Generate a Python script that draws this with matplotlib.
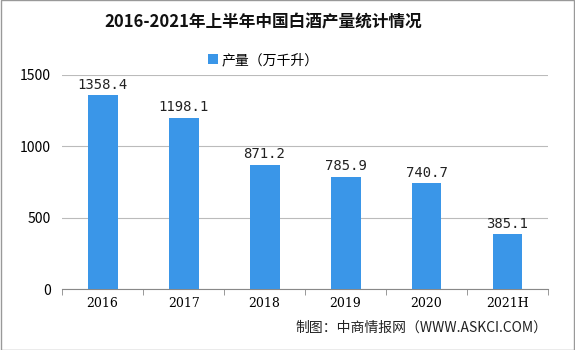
import matplotlib.pyplot as plt
import numpy as np

plt.rcParams['font.family'] = ['Noto Sans CJK SC', 'DejaVu Sans']

years = ['2016', '2017', '2018', '2019', '2020', '2021H']
output = [1358.4, 1198.1, 871.2, 785.9, 740.7, 385.1]
labels = ['1358.4', '1198.1', '871.2', '785.9', '740.7', '385.1']

fig = plt.figure(figsize=(5.75, 3.5), dpi=100)
fig.patch.set_facecolor('white')
ax = fig.add_axes([0.108, 0.174, 0.845, 0.612])

x = np.arange(len(years))
bars = ax.bar(x, output, width=0.37, color='#3a96e8', label='产量（万千升）', zorder=3)
for xi, v, t in zip(x, output, labels):
    ax.text(xi, v + 25, t, ha='center', va='bottom', fontsize=10, family='DejaVu Sans Mono', color='#222222')

ax.set_xlim(-0.5, len(years) - 0.5)
ax.set_ylim(0, 1500)
ax.set_yticks([0, 500, 1000, 1500])
ax.set_xticks(x)
ax.set_xticklabels(years, fontsize=9, family='DejaVu Serif')
ax.set_xticks(np.arange(-0.5, len(years)), minor=True)
ax.tick_params(axis='x', which='major', length=0, pad=6)
ax.tick_params(axis='x', which='minor', length=4, color='#888888')
ax.tick_params(axis='y', length=0, labelsize=10, pad=8)
ax.yaxis.grid(True, color='#bbbbbb', linewidth=0.8, zorder=0)
for s in ['top', 'right', 'left']:
    ax.spines[s].set_visible(False)
ax.spines['bottom'].set_color('#888888')

fig.text(0.458, 0.935, '2016-2021年上半年中国白酒产量统计情况', ha='center', va='center',
         fontsize=12, fontweight='bold', color='#111111')
fig.legend(handles=[bars], loc='center', bbox_to_anchor=(0.458, 0.828), frameon=False,
           fontsize=10, handlelength=0.7, handleheight=0.7, handletextpad=0.3)
fig.text(0.952, 0.065, '制图：中商情报网（WWW.ASKCI.COM）', ha='right', va='center',
         fontsize=10, color='#222222')

fig.add_artist(plt.Rectangle((0.001, 0.001), 0.998, 0.998, transform=fig.transFigure,
                             fill=False, edgecolor='#999999', linewidth=1))

fig.savefig('out.png', dpi=100)
